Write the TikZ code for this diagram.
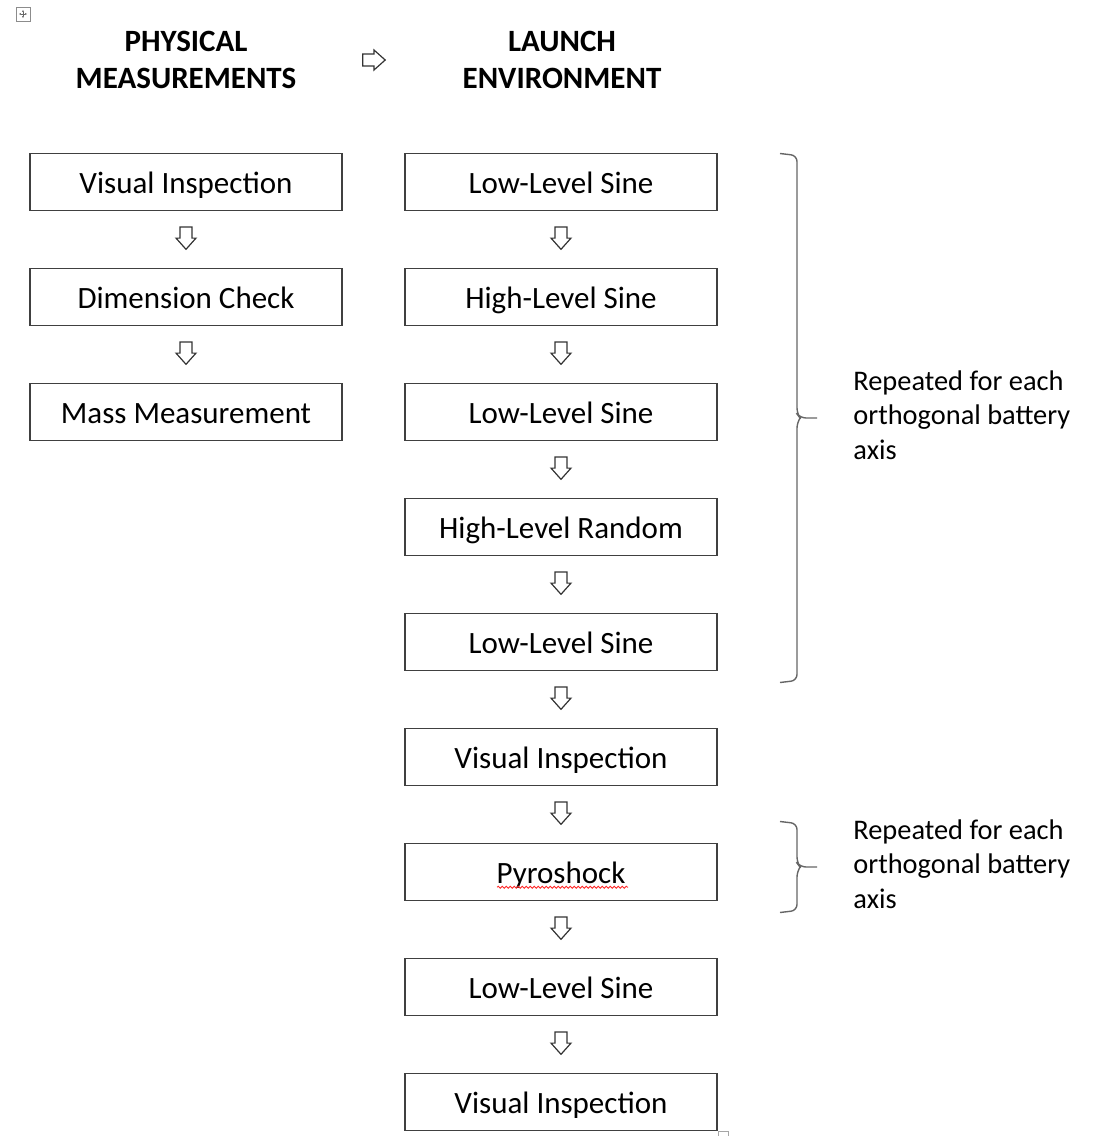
\documentclass[tikz,border=0pt]{standalone}
\usepackage{fontspec}
\setmainfont{Carlito}
\usetikzlibrary{positioning,calc,arrows.meta,decorations.pathmorphing}
\tikzset{
  stepbox/.style={draw=black!75, line width=0.7pt, minimum width=156pt, minimum height=28.5pt, inner sep=0pt, outer sep=0pt, text height=14pt, text depth=3pt, font=\fontsize{15.5}{18}\selectfont},
  head/.style={align=center, inner sep=0pt, font=\fontsize{15.5}{18.5}\selectfont\bfseries},
  note/.style={align=left, anchor=west, inner sep=0pt, font=\fontsize{14.2}{17.3}\selectfont},
  brace/.style={draw=black!60, line width=0.7pt, rounded corners=3pt},
  hollow/.pic={\draw[black!80, line width=0.6pt] (-3pt,5.6pt) -- (3pt,5.6pt) -- (3pt,0pt) -- (5pt,0pt) -- (0pt,-5.6pt) -- (-5pt,0pt) -- (-3pt,0pt) -- cycle;}
}

\begin{document}
\begin{tikzpicture}[x=0.5pt, y=-0.5pt]
\def\gap {29pt}   % vertical gap between boxes
\useasboundingbox (0,0) rectangle (1099,1136);
% corner handle:
 \draw[black!45, line width=0.4pt] (16,7) rectangle (30,21);
 \draw[black!60, line width=0.4pt, {Latex[length=1.2pt]}-{Latex[length=1.2pt]}] (18.5,14) -- (27.5,14);
 \draw[black!60, line width=0.4pt, {Latex[length=1.2pt]}-{Latex[length=1.2pt]}] (23,9.5) -- (23,18.5);
% headings:
 \node[head] (phys) at (186,60) {PHYSICAL\\MEASUREMENTS};
 \node[head] (launch) at (562,60) {LAUNCH\\ENVIRONMENT};
 \pic[rotate=90] at ($(phys)!0.5!(launch)$) {hollow};
% physical measurements:
 \node[stepbox] (l1) at (186,182) {Visual Inspection};
 \node[stepbox, below=\gap of l1] (l2) {Dimension Check};
 \node[stepbox, below=\gap of l2] (l3) {Mass Measurement};
% launch environment:
 \node[stepbox] (r1) at (561,182) {Low-Level Sine};
 \node[stepbox, below=\gap of r1] (r2) {High-Level Sine};
 \node[stepbox, below=\gap of r2] (r3) {Low-Level Sine};
 \node[stepbox, below=\gap of r3] (r4) {High-Level Random};
 \node[stepbox, below=\gap of r4] (r5) {Low-Level Sine};
 \node[stepbox, below=\gap of r5] (r6) {Visual Inspection};
 \node[stepbox, below=\gap of r6] (r7) {Pyroshock};
 \node[stepbox, below=\gap of r7] (r8) {Low-Level Sine};
 \node[stepbox, below=\gap of r8] (r9) {Visual Inspection};
% arrows between boxes:
 \foreach \a/\b in {l1/l2,l2/l3,r1/r2,r2/r3,r3/r4,r4/r5,r5/r6,r6/r7,r7/r8,r8/r9}
   \pic at ($(\a.south)!0.5!(\b.north)+(0,0.7pt)$) {hollow};
% spell-check squiggle:
 \draw[red!85, line width=0.4pt, decorate, decoration={snake, amplitude=0.5pt, segment length=2pt}]
   ($(r7.center)+(-32pt,-7.6pt)$) -- ($(r7.center)+(33.5pt,-7.6pt)$);
% first brace:
 \coordinate (b1top) at ($(r1.north east)+(31.5pt,0)$);
 \coordinate (b1bot) at ($(r5.south east)+(31.5pt,-6pt)$);
 \coordinate (b1mid) at ($(b1top)!0.5!(b1bot)$);
 \coordinate (b1tip) at ($(b1mid)+(18.5pt,0)$);
 \draw[brace] (b1top) -- ++(8.5pt,-1pt) -- ($(b1mid)+(8.5pt,2pt)$) -- ($(b1mid)+(10pt,0)$) -- (b1tip);
 \draw[brace] ($(b1mid)+(10pt,0)$) -- ($(b1mid)+(8.5pt,-2pt)$) -- ($(b1bot)+(8.5pt,1pt)$) -- (b1bot);
 \node[note, right=18pt of b1tip, yshift=1.5pt] (rep1) {Repeated for each\\orthogonal battery\\axis};
% second brace:
 \coordinate (b2top) at ($(r7.north east)+(31.5pt,11pt)$);
 \coordinate (b2bot) at ($(r7.south east)+(31.5pt,-6pt)$);
 \coordinate (b2mid) at ($(b2top)!0.5!(b2bot)$);
 \coordinate (b2tip) at ($(b2mid)+(18.5pt,0)$);
 \draw[brace] (b2top) -- ++(8.5pt,-1pt) -- ($(b2mid)+(8.5pt,2pt)$) -- ($(b2mid)+(10pt,0)$) -- (b2tip);
 \draw[brace] ($(b2mid)+(10pt,0)$) -- ($(b2mid)+(8.5pt,-2pt)$) -- ($(b2bot)+(8.5pt,1pt)$) -- (b2bot);
 \node[note, right=18pt of b2tip, yshift=1.5pt] (rep2) {Repeated for each\\orthogonal battery\\axis};
% corner mark:
 \draw[black!35, line width=0.4pt] ($(r9.south east)+(0.5pt,-0.5pt)$) rectangle ++(5pt,-5pt);
\end{tikzpicture}
\end{document}
